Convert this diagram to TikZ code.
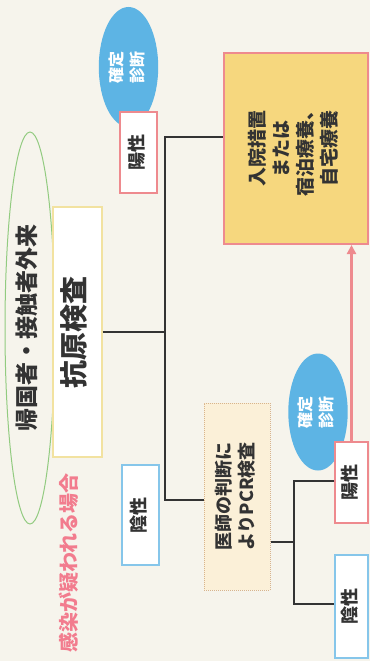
\documentclass[tikz,border=0pt]{standalone}
\usepackage{fontspec}
\setmainfont{Noto Sans CJK JP}
\usetikzlibrary{shapes.geometric,arrows.meta}
\definecolor{bg}{HTML}{F6F4EC}
\definecolor{ink}{HTML}{333333}
\definecolor{pinkln}{HTML}{EE8A8E}
\definecolor{bluln}{HTML}{86C6EA}
\definecolor{blufill}{HTML}{5DB4E4}
\definecolor{grn}{HTML}{92CB80}
\definecolor{ylw}{HTML}{F2E2A0}
\definecolor{bigfill}{HTML}{F6D77E}
\definecolor{pcrfill}{HTML}{FBF0D8}
\definecolor{pcrln}{HTML}{D8B48C}
\definecolor{pinktx}{HTML}{F27C8E}
\newcommand\vtext[1]{\rotatebox{90}{\begin{tabular}{@{}c@{}}#1\end{tabular}}}
\begin{document}
\begin{tikzpicture}[x=1pt,y=-1pt,
  conn/.style={draw=ink, line width=2.2pt},
  lbox/.style={draw, line width=1.5pt, fill=white, inner sep=0pt, text=ink,
    font=\bfseries\fontsize{18}{20}\selectfont},
  posbox/.style={lbox, draw=pinkln},
  negbox/.style={lbox, draw=bluln},
  diag/.style={ellipse, fill=blufill, inner sep=0pt, text=white,
    font=\bfseries\fontsize{16}{21}\selectfont}]
\fill[bg] (0,0) rectangle (370,661);
\useasboundingbox (0,0) rectangle (370,661);

% left column
\node[ellipse, draw=grn, line width=1pt, minimum width=50pt, minimum height=392pt, inner sep=0pt,
  text=ink, font=\bfseries\fontsize{23}{26}\selectfont] (clinic) at (30,328) {\vtext{帰国者・接触者外来}};
\node[draw=ylw, line width=1.2pt, fill=white, minimum width=49pt, minimum height=250pt, inner sep=0pt,
  text=ink, font=\bfseries\fontsize{28}{30}\selectfont] (antigen) at (77.5,332) {\vtext{抗原検査}};
\node[text=pinktx, font=\bfseries\fontsize{20}{22}\selectfont] (suspect) at (71,563) {\vtext{感染が疑われる場合}};

% first diagnosis
\node[diag, minimum width=57pt, minimum height=120pt] (diag1) at (128.5,67) {\vtext{確定\\診断}};
\node[posbox, minimum width=37pt, minimum height=81pt] (pos1) at (138.5,152.5) {\vtext{陽性}};
\node[negbox, minimum width=37pt, minimum height=100pt] (neg1) at (140.5,515) {\vtext{陰性}};

% outcome box
\node[draw=pinkln, line width=2pt, fill=bigfill, minimum width=144pt, minimum height=191pt, inner sep=0pt,
  text=ink, font=\bfseries\fontsize{19}{24}\selectfont] (care) at (296,148.5)
  {\vtext{入院措置\\または\\宿泊療養、\\自宅療養}};

% PCR
\node[draw=pcrln, densely dotted, line width=1pt, fill=pcrfill, minimum width=66pt, minimum height=187pt,
  inner sep=0pt, text=ink, font=\bfseries\fontsize{18}{23}\selectfont] (pcr) at (237,496.5)
  {\vtext{医師の判断に\\よりPCR検査}};
\node[diag, minimum width=51pt, minimum height=117pt] (diag2) at (318,412) {\vtext{確定\\診断}};
\node[posbox, minimum width=33pt, minimum height=81pt] (pos2) at (351.5,482.5) {\vtext{陽性}};
\node[negbox, minimum width=33pt, minimum height=103pt] (neg2) at (351.5,606.5) {\vtext{陰性}};

% connectors
\coordinate (j1t) at (165,137);
\coordinate (j1b) at (165,500);
\draw[conn] (antigen.east) -- (antigen.east -| j1t);
\draw[conn] (care.west |- j1t) -- (j1t) -- (j1b) -- (pcr.west |- j1b);
\coordinate (j2m) at (294,542);
\coordinate (j2t) at (294,481);
\coordinate (j2b) at (294,604);
\draw[conn] (pcr.east |- j2m) -- (j2m);
\draw[conn] (pos2.west |- j2t) -- (j2t) -- (j2b) -- (neg2.west |- j2b);
\draw[draw=pinkln, line width=2.2pt, -{Triangle[length=9pt,width=9pt]}] (pos2.north) -- (pos2.north |- care.south);
\end{tikzpicture}
\end{document}
